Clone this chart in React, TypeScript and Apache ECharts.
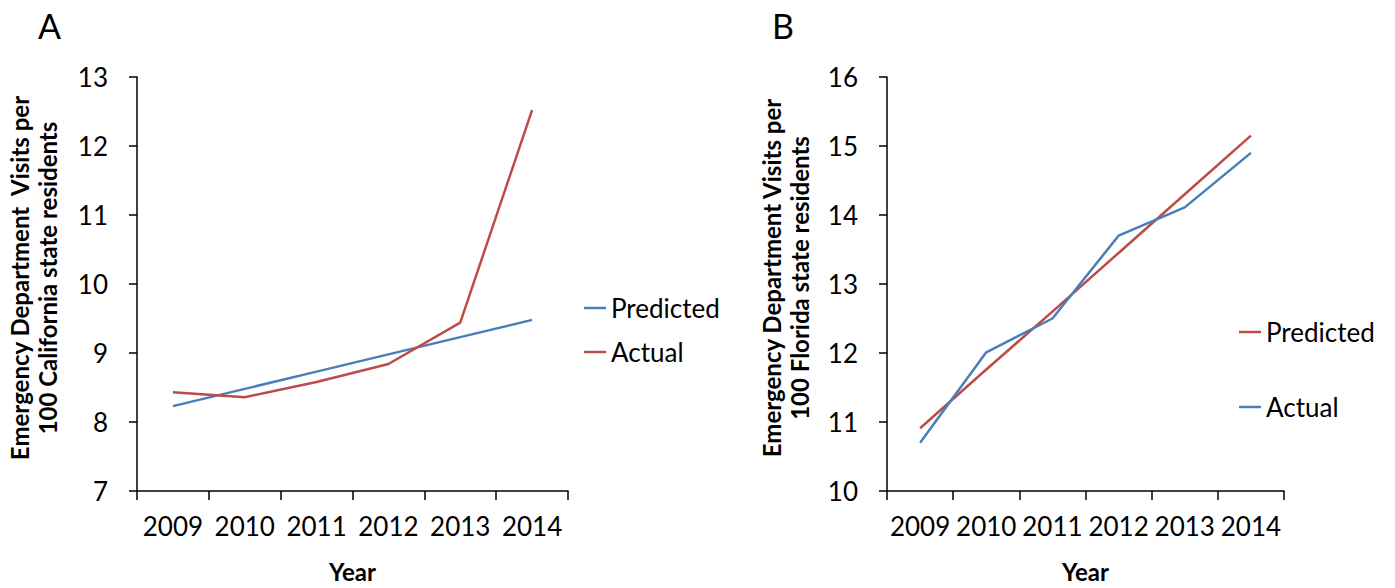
import React, { useEffect, useRef } from "react";
import * as echarts from "echarts";

const years = ["2009", "2010", "2011", "2012", "2013", "2014"];
const caPredicted = [8.23, 8.48, 8.73, 8.98, 9.23, 9.48];
const caActual = [8.43, 8.36, 8.58, 8.84, 9.44, 12.52];
const flPredicted = [10.91, 11.76, 12.6, 13.45, 14.3, 15.15];
const flActual = [10.7, 12.01, 12.5, 13.7, 14.11, 14.9];

const BLUE = "#4A7EBB";
const RED = "#BE4B48";
const FONT = "Lato";

export default function App() {
  const ref = useRef<HTMLDivElement>(null);
  useEffect(() => {
    if (!ref.current) return;
    const chart = echarts.init(ref.current, null, { renderer: "svg" });
    const xAxisBase = (gridIndex: number) => ({
      type: "category",
      gridIndex,
      data: years,
      boundaryGap: true,
      axisLine: { lineStyle: { color: "#000", width: 1.5 } },
      axisTick: { show: true, length: 9, interval: 0, lineStyle: { color: "#000", width: 1.5 } },
      axisLabel: { interval: 0, color: "#000", fontSize: 26, fontFamily: FONT, margin: 22 },
      name: "Year",
      nameLocation: "middle",
      nameGap: 68,
      nameTextStyle: { color: "#000", fontSize: 24, fontWeight: "bold", fontFamily: FONT },
    });
    const yAxisBase = (gridIndex: number, min: number, max: number) => ({
      type: "value",
      gridIndex,
      min,
      max,
      interval: 1,
      splitLine: { show: false },
      axisLine: { show: true, lineStyle: { color: "#000", width: 1.5 } },
      axisTick: { show: true, length: 8, lineStyle: { color: "#000", width: 1.5 } },
      axisLabel: { color: "#000", fontSize: 26, fontFamily: FONT, margin: 29 },
    });
    const legendItem = (name: string, color: string, left: number, center: number) => ({
      show: true,
      left,
      top: center - 13,
      padding: 0,
      orient: "vertical",
      icon: "rect",
      itemWidth: 22,
      itemHeight: 2.5,
      selectedMode: false,
      textStyle: { color: "#000", fontSize: 26, fontFamily: FONT, lineHeight: 26 },
      data: [{ name, itemStyle: { color } }],
    });
    const titleText = (x: number, y: number, text: string) => ({
      type: "text",
      x,
      y,
      rotation: Math.PI / 2,
      style: {
        text,
        fill: "#000",
        font: `bold 24px ${FONT}`,
        lineHeight: 28,
        align: "center",
        verticalAlign: "middle",
      },
    });
    chart.setOption({
      animation: false,
      backgroundColor: "#fff",
      grid: [
        { left: 137, top: 77, width: 431, height: 420 },
        { left: 887, top: 77, width: 397, height: 420 },
      ],
      xAxis: [xAxisBase(0), xAxisBase(1)],
      yAxis: [yAxisBase(0, 7, 13), yAxisBase(1, 10, 16)],
      legend: [
        legendItem("Predicted", BLUE, 584, 308),
        legendItem("Actual", RED, 584, 352),
        legendItem("Predicted", RED, 1239, 332),
        legendItem("Actual", BLUE, 1239, 407),
      ],
      graphic: [
        titleText(33, 278, "Emergency Department  Visits per\n100 California state residents"),
        titleText(785, 278, "Emergency Department Visits per\n100 Florida state residents"),
        {
          type: "text",
          left: 38,
          top: 8,
          style: { text: "A", fill: "#000", font: `34px ${FONT}` },
        },
        {
          type: "text",
          left: 772,
          top: 8,
          style: { text: "B", fill: "#000", font: `34px ${FONT}` },
        },
      ],
      series: [
        {
          name: "Predicted",
          type: "line",
          xAxisIndex: 0,
          yAxisIndex: 0,
          data: caPredicted,
          symbol: "none",
          lineStyle: { color: BLUE, width: 2.5 },
          itemStyle: { color: BLUE },
        },
        {
          name: "Actual",
          type: "line",
          xAxisIndex: 0,
          yAxisIndex: 0,
          data: caActual,
          symbol: "none",
          lineStyle: { color: RED, width: 2.5 },
          itemStyle: { color: RED },
        },
        {
          name: "Predicted",
          type: "line",
          xAxisIndex: 1,
          yAxisIndex: 1,
          data: flPredicted,
          symbol: "none",
          lineStyle: { color: RED, width: 2.5 },
          itemStyle: { color: RED },
        },
        {
          name: "Actual",
          type: "line",
          xAxisIndex: 1,
          yAxisIndex: 1,
          data: flActual,
          symbol: "none",
          lineStyle: { color: BLUE, width: 2.5 },
          itemStyle: { color: BLUE },
        },
      ],
    });
    return () => chart.dispose();
  }, []);
  return (
    <div
      ref={ref}
      style={{ position: "fixed", left: 0, top: 0, width: 1395, height: 588, background: "#fff" }}
    />
  );
}
